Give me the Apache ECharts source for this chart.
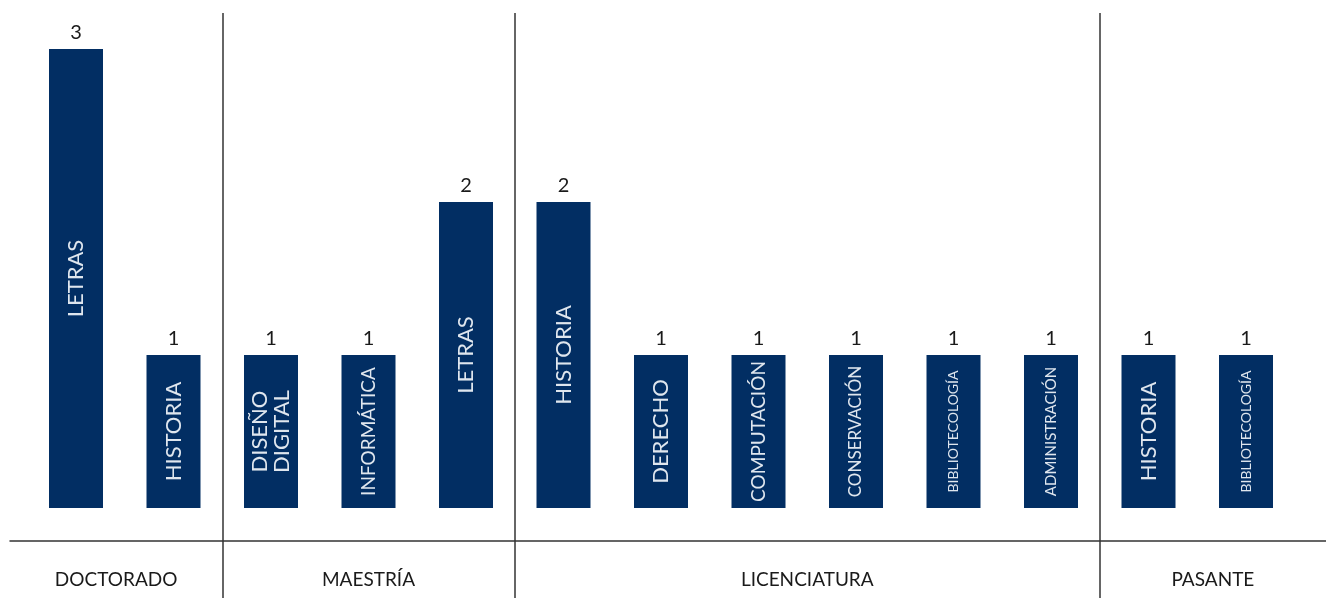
<!DOCTYPE html>
<html>
<head>
<meta charset="utf-8">
<script src="https://cdn.jsdelivr.net/npm/echarts@6/dist/echarts.min.js"></script>
<style>
  html, body { margin: 0; padding: 0; background: #fff; }
  #chart { width: 1326px; height: 598px; }
</style>
</head>
<body>
<div id="chart"></div>
<script>
// datos
const categories = ['LETRAS', 'HISTORIA', 'DISEÑO\nDIGITAL', 'INFORMÁTICA', 'LETRAS', 'HISTORIA', 'DERECHO',
  'COMPUTACIÓN', 'CONSERVACIÓN', 'BIBLIOTECOLOGÍA', 'ADMINISTRACIÓN', 'HISTORIA', 'BIBLIOTECOLOGÍA']
const counts = [3, 1, 1, 1, 2, 2, 1, 1, 1, 1, 1, 1, 1]
const groupNames = ['DOCTORADO', 'MAESTRÍA', 'LICENCIATURA', 'PASANTE']
const groupSizes = [2, 3, 6, 2]

const barColor = '#022e63'
const lineColor = '#333333'
const font = 'Lato, "Noto Sans", sans-serif'
const gridLeft = 27.25
const gridRight = 31.25
const ruleLeft = 10

const chart = echarts.init(document.getElementById('chart'))
const W = chart.getWidth()
const n = categories.length
const unit = (W - gridLeft - gridRight) / n
// the lower rule runs from ruleLeft to the right edge
const xMin = -0.5 - (gridLeft - ruleLeft) / unit
const xMax = n - 0.5 + gridRight / unit

// group edges in category units
const edges = [xMin]
let acc = -0.5
groupSizes.forEach((s, i) => {
  acc += s
  edges.push(i === groupSizes.length - 1 ? xMax : acc)
})
const dividers = edges.slice(1, -1)

// shrink long names so they fit inside the bar
function nameSize(name) {
  const longest = Math.max(...name.split('\n').map(t => t.length))
  return Math.min(22, Math.floor(140 / (longest * 0.66)))
}

const nameData = counts.map((v, i) => ({
  value: v,
  label: { fontSize: nameSize(categories[i]) }
}))

const hiddenValue = (gridIndex) => ({
  type: 'value', gridIndex, min: 0, max: 1, show: false
})

chart.setOption({
  animation: false,
  grid: [
    { left: gridLeft, right: gridRight, top: 49, bottom: 90 },
    { left: ruleLeft, right: 0, top: 13, bottom: 0 },
    { left: ruleLeft, right: 0, top: 541, bottom: 0 }
  ],
  xAxis: [
    {
      type: 'category', gridIndex: 0, data: categories,
      axisLine: { show: false }, axisTick: { show: false }, axisLabel: { show: false }
    },
    { type: 'value', gridIndex: 1, min: xMin, max: xMax, show: false },
    {
      type: 'value', gridIndex: 2, min: xMin, max: xMax, position: 'top',
      axisLine: { show: true, onZero: false, lineStyle: { color: lineColor, width: 1.5 } },
      axisTick: { show: false }, axisLabel: { show: false }, splitLine: { show: false }
    }
  ],
  yAxis: [
    { type: 'value', gridIndex: 0, min: 0, max: 3, show: false },
    hiddenValue(1),
    hiddenValue(2)
  ],
  series: [
    {
      name: 'count',
      type: 'bar',
      barWidth: 54,
      data: counts,
      itemStyle: { color: barColor },
      label: {
        show: true, position: 'top', distance: 6,
        color: '#1a1a1a', fontSize: 20, fontFamily: font
      }
    },
    {
      name: 'name',
      type: 'bar',
      barWidth: 54,
      barGap: '-100%',
      data: nameData,
      itemStyle: { color: 'transparent' },
      silent: true,
      label: {
        show: true, position: 'inside', rotate: 90,
        formatter: '{b}', color: '#dfe6ee', fontFamily: font, lineHeight: 22
      }
    },
    {
      type: 'line', xAxisIndex: 1, yAxisIndex: 1, data: [],
      markLine: {
        silent: true, symbol: ['none', 'none'], label: { show: false },
        lineStyle: { color: lineColor, width: 1.5, type: 'solid' },
        data: dividers.map(x => ({ xAxis: x }))
      }
    },
    {
      type: 'line', xAxisIndex: 2, yAxisIndex: 2, data: [],
      markArea: {
        silent: true,
        itemStyle: { color: 'transparent' },
        label: {
          show: true, position: 'inside', offset: [0, 10],
          color: '#1a1a1a', fontSize: 19, fontFamily: font
        },
        data: groupNames.map((g, i) => [{ name: g, xAxis: edges[i] }, { xAxis: edges[i + 1] }])
      }
    }
  ]
})
</script>
</body>
</html>
